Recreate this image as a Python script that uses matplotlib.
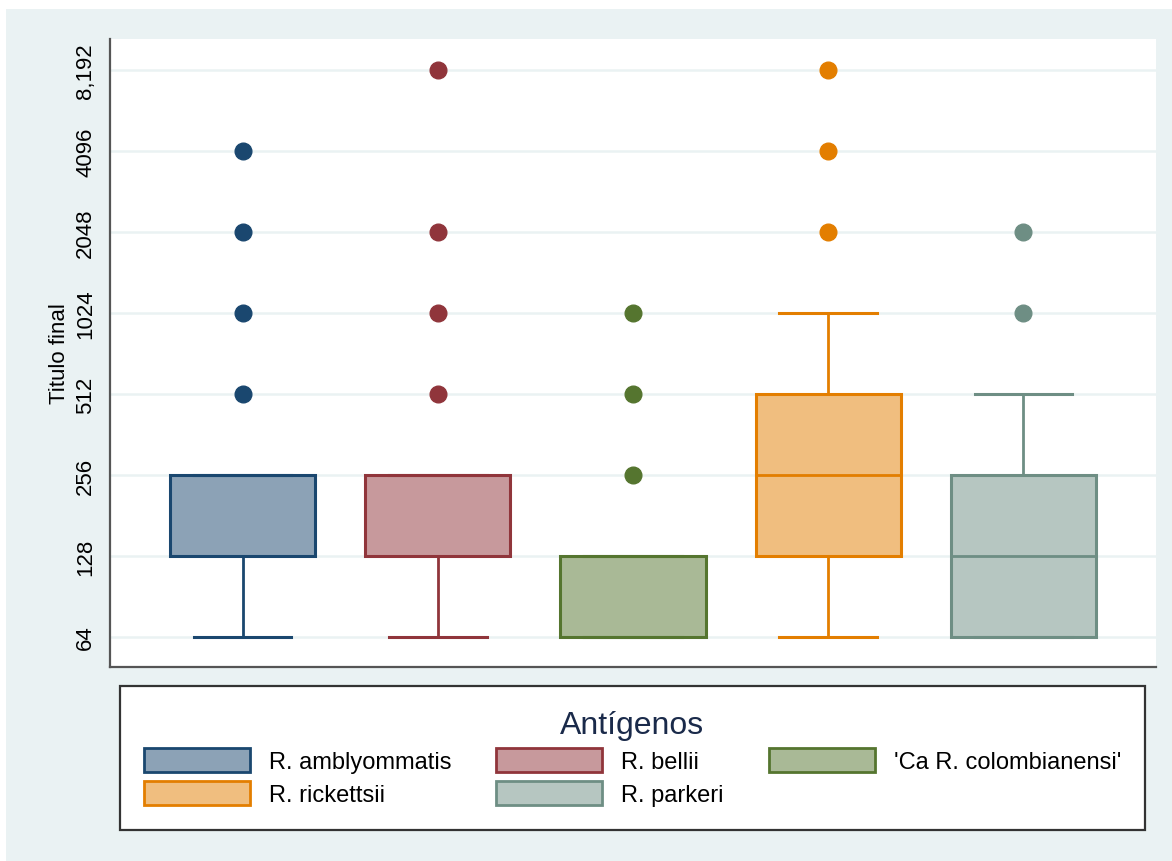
import matplotlib.pyplot as plt
from matplotlib.patches import Patch, Rectangle

plt.rcParams['font.family'] = ['Liberation Sans', 'DejaVu Sans']

antigens = ['R. amblyommatis', 'R. bellii', "'Ca R. colombianensi'", 'R. rickettsii', 'R. parkeri']
colors = ['#1a476f', '#90353b', '#55752f', '#e37e00', '#6e8e84']

# box statistics (titers)
whislo = [64, 64, 64, 64, 64]
q1 = [128, 128, 64, 128, 64]
med = [128, 128, 64, 256, 128]
q3 = [256, 256, 128, 512, 256]
whishi = [256, 256, 128, 1024, 512]
outliers = [[512, 1024, 2048, 4096],
            [512, 1024, 2048, 8192],
            [256, 512, 1024],
            [2048, 4096, 8192],
            [1024, 2048]]

yticks = [64, 128, 256, 512, 1024, 2048, 4096, 8192]
ylabels = ['64', '128', '256', '512', '1024', '2048', '4096', '8,192']

W, H = 1172, 862
fig = plt.figure(figsize=(W / 100, H / 100), dpi=100, facecolor='white')
fig.patches.append(Rectangle((6 / W, 0), 1 - 6 / W, 1 - 10 / H, transform=fig.transFigure,
                             facecolor='#eaf2f3', edgecolor='none', zorder=-10))

ax = fig.add_axes([110 / W, 1 - 668 / H, (1156 - 110) / W, (668 - 40) / H])
ax.set_facecolor('white')

for i, c in enumerate(colors):
    st = [dict(whislo=whislo[i], q1=q1[i], med=med[i], q3=q3[i], whishi=whishi[i],
               fliers=outliers[i])]
    ax.bxp(st, positions=[i], widths=0.744, patch_artist=True, showfliers=True,
           boxprops=dict(facecolor=c + '80', edgecolor=c, linewidth=2.2),
           medianprops=dict(color=c, linewidth=2),
           whiskerprops=dict(color=c, linewidth=2),
           capprops=dict(color=c, linewidth=2.2),
           capwidths=0.5,
           flierprops=dict(marker='o', markerfacecolor=c, markeredgecolor=c, markersize=12))

ax.set_yscale('log', base=2)
ax.set_ylim(2 ** 5.63, 2 ** 13.38)
ax.set_xlim(-0.68, 4.68)
ax.set_yticks(yticks)
ax.set_yticklabels(ylabels, rotation=90, va='center', fontsize=16)
ax.minorticks_off()
ax.set_xticks([])
ax.tick_params(axis='y', length=0, pad=10)
ax.grid(axis='y', color='#eaf2f3', linewidth=1.8)
ax.set_axisbelow(True)
ax.set_ylabel('Titulo final', fontsize=16, labelpad=4)
for s in ['top', 'right']:
    ax.spines[s].set_visible(False)
for s in ['left', 'bottom']:
    ax.spines[s].set_color('#555555')
    ax.spines[s].set_linewidth(1.6)

order = [0, 3, 1, 4, 2]
handles = [Patch(facecolor=colors[k] + '80', edgecolor=colors[k], linewidth=2, label=antigens[k])
           for k in order]
leg = fig.legend(handles=handles, ncol=3, title='Antígenos', title_fontsize=23, fontsize=17,
                 loc='upper left', mode='expand', borderaxespad=0,
                 bbox_to_anchor=(120 / W, 1 - 827 / H, (1145 - 120) / W, 140 / H),
                 handlelength=4.5, handleheight=1.2, handletextpad=0.8, labelspacing=0.35,
                 columnspacing=2.0, borderpad=1.0, fancybox=False, framealpha=1,
                 edgecolor='#333333')
leg.get_frame().set_linewidth(1.6)
leg.get_title().set_color('#1a2a4a')

fig.savefig('out.png', dpi=100, facecolor=fig.get_facecolor())
